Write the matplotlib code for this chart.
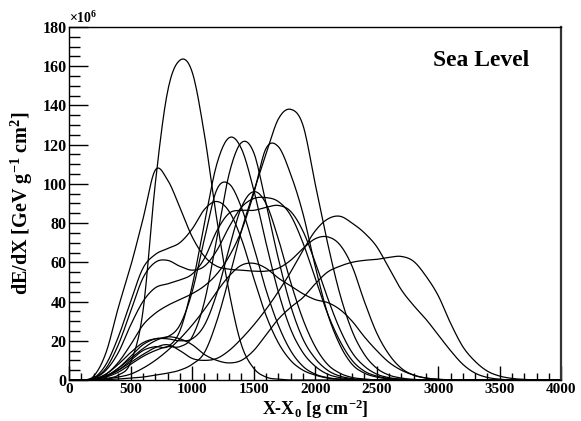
import numpy as np
import matplotlib
matplotlib.use("Agg")
import matplotlib.pyplot as plt
from matplotlib.ticker import MultipleLocator

# depth grid (g cm^-2) shared by all profiles
depth = list(range(0, 4100, 100))

# energy deposit profiles, units of 1e6 GeV g^-1 cm^2
prof_a = [0, 0, 0.2, 0.8, 2.5, 9, 35, 100, 147, 163, 157, 125, 82, 45, 18, 6, 1.5, 0.4]
prof_b = [0, 0, 2, 14, 37, 58, 82, 107, 102, 88, 73, 63, 58, 56.5, 56, 55.5, 55.5, 57, 61, 67,
          72, 73, 69, 58, 40, 24, 13, 6, 2.5, 1, 0.3]
prof_c = [0, 0, 0.3, 2, 5, 10, 15, 17, 17, 25, 48, 80, 110, 123.5, 118, 97, 70, 45, 26, 14,
          7, 3, 1.2, 0.4]
prof_d = [0, 0, 0.3, 1.5, 4, 8, 12, 15, 17, 17, 22, 40, 72, 105, 121, 116, 90, 62, 38, 21,
          11, 5, 2, 0.7]
prof_e = [0, 0, 0, 0.2, 0.5, 1, 1.5, 2.5, 3.5, 5, 8, 14, 30, 52, 76, 96, 115, 133, 138, 130,
          100, 70, 44, 25, 13, 6, 2.5, 1, 0.3]
prof_f = [0, 0, 0.5, 3, 9, 18, 28, 34, 38, 41, 44, 48, 54, 63, 76, 95, 118, 119, 105, 85,
          58, 34, 18, 8, 3.5, 1.5, 0.5]
prof_g = [0, 0, 0.5, 2, 6, 12, 18, 21, 22, 28, 45, 72, 97, 100, 88, 68, 46, 28, 15, 7,
          3, 1.2, 0.4]
prof_h = [0, 0, 0.5, 3, 8, 14, 19, 21, 21, 20, 21, 28, 44, 67, 88, 96, 90, 72, 50, 31,
          17, 8, 3.5, 1.3, 0.5]
prof_i = [0, 0, 1, 8, 22, 40, 57, 64, 67, 70, 77, 87, 91, 86, 72, 52, 33, 19, 10, 5,
          2.5, 1, 0.4]
prof_j = [0, 0, 1, 6, 18, 35, 52, 60, 61, 58, 56, 58, 66, 78, 88, 92.5, 93, 91, 84, 70,
          52, 34, 20, 10, 4.5, 2, 0.8, 0.3]
prof_k = [0, 0, 0.8, 5, 14, 28, 40, 47, 49, 51, 54, 62, 76, 85, 86.5, 86.5, 88, 89, 86, 76,
          60, 42, 26, 14, 7, 3, 1.2, 0.4]
prof_l = [0, 0, 0.3, 2, 5, 9, 13, 16.5, 18, 15, 11, 10, 11, 15, 21, 28, 36, 45, 55, 66,
          76, 82, 83.5, 80, 75, 68, 57, 46, 38, 31, 23, 15, 8, 3.5, 1.3, 0.4]
prof_n = [0, 0, 0, 0.5, 1.5, 3, 6, 10, 15, 21, 28, 36, 45, 53, 58.5, 59.5, 57, 52, 48, 44,
          41, 39.5, 36, 30, 22, 15, 9, 5, 2.5, 1, 0.4]
prof_o = [0, 0, 0.3, 2, 6, 11, 16, 20, 22, 21, 18, 13, 10, 8.7, 10, 15, 23, 31, 37, 42,
          49, 55, 58, 60, 61, 61.5, 62.5, 63, 60.5, 53, 43, 29, 17, 9.5, 4.5, 2, 0.8, 0.3]

profiles = [prof_a, prof_b, prof_c, prof_d, prof_e, prof_f, prof_g, prof_h,
            prof_i, prof_j, prof_k, prof_l, prof_n, prof_o]

x_ticks = [0, 500, 1000, 1500, 2000, 2500, 3000, 3500, 4000]
y_ticks = [0, 20, 40, 60, 80, 100, 120, 140, 160, 180]


def smooth(xs, ys, n=12):
    """Catmull-Rom rendering of a polyline (passes through every data point)."""
    xs = np.asarray(xs, float)
    ys = np.asarray(ys, float)
    px = np.concatenate([[2 * xs[0] - xs[1]], xs, [2 * xs[-1] - xs[-2]]])
    py = np.concatenate([[ys[0]], ys, [ys[-1]]])
    t = np.linspace(0, 1, n, endpoint=False)
    ox, oy = [], []
    for i in range(1, len(px) - 2):
        for p, o in ((px, ox), (py, oy)):
            p0, p1, p2, p3 = p[i - 1], p[i], p[i + 1], p[i + 2]
            o.extend(0.5 * ((2 * p1) + (-p0 + p2) * t + (2 * p0 - 5 * p1 + 4 * p2 - p3) * t ** 2
                            + (-p0 + 3 * p1 - 3 * p2 + p3) * t ** 3))
    ox.append(xs[-1])
    oy.append(ys[-1])
    return np.array(ox), np.clip(np.array(oy), 0, None)


plt.rcParams['font.family'] = ['Liberation Serif', 'DejaVu Serif']
plt.rcParams['mathtext.fontset'] = 'custom'
plt.rcParams['mathtext.rm'] = 'Liberation Serif:bold'
plt.rcParams['mathtext.it'] = 'Liberation Serif:bold'
plt.rcParams['mathtext.bf'] = 'Liberation Serif:bold'

fig = plt.figure(figsize=(5.81, 4.21), dpi=100)
ax = fig.add_axes([0.119, 0.0974, 0.847, 0.8386])

for prof in profiles:
    vals = prof + [0] * (len(depth) - len(prof))
    sx, sy = smooth(depth, vals)
    ax.plot(sx, sy, color='black', lw=0.9)

ax.set_xlim(0, 4000)
ax.set_ylim(0, 180)
ax.set_xticks(x_ticks)
ax.set_yticks(y_ticks)
ax.set_xticklabels([str(v) for v in x_ticks], fontweight='bold', fontsize=11)
ax.set_yticklabels([str(v) for v in y_ticks], fontweight='bold', fontsize=11.5)
ax.xaxis.set_minor_locator(MultipleLocator(100))
ax.yaxis.set_minor_locator(MultipleLocator(5))
ax.tick_params(axis='both', which='both', direction='in', top=False, right=False, width=1)
ax.tick_params(axis='y', which='major', length=14, pad=2)
ax.tick_params(axis='y', which='minor', length=8)
ax.tick_params(axis='x', which='major', length=10, pad=2)
ax.tick_params(axis='x', which='minor', length=5)
for s in ax.spines.values():
    s.set_linewidth(1.0)
ax.spines['right'].set_linewidth(1.6)
ax.spines['right'].set_color('#333333')

ax.set_xlabel('X-X$_{0}$ [g cm$^{\\mathrm{-2}}$]', fontsize=13, fontweight='bold', labelpad=1)
ax.set_ylabel('dE/dX [GeV g$^{\\mathrm{-1}}$ cm$^{2}$]', fontsize=14.5, fontweight='bold', labelpad=5)
ax.text(0.0, 1.003, r'$\times$10$^{6}$', transform=ax.transAxes, fontsize=10,
        fontweight='bold', ha='left', va='bottom')
ax.text(0.935, 0.905, 'Sea Level', transform=ax.transAxes, fontsize=17,
        fontweight='bold', ha='right', va='center')

fig.savefig('out.png', dpi=100)
